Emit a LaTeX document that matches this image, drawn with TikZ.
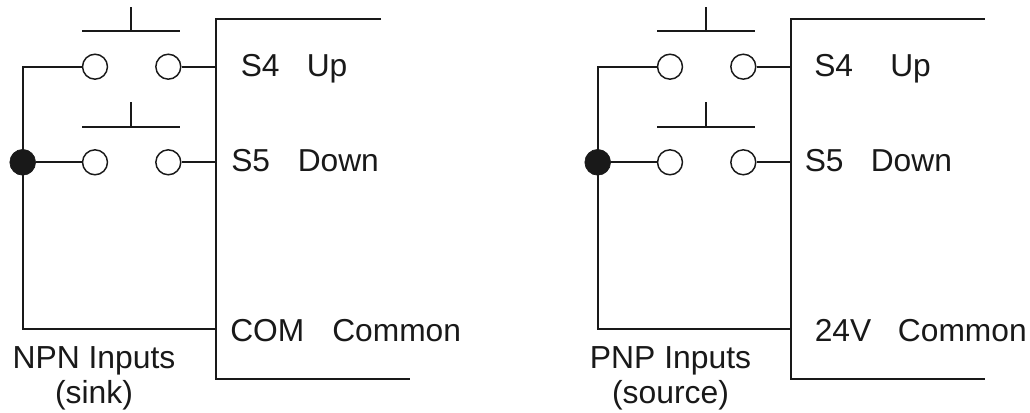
\documentclass[tikz,border=0pt]{standalone}
\usepackage{fontspec}
\setmainfont{Liberation Sans}
\tikzset{
  wire/.style={line width=1.5pt,black!90},
  contactnode/.style={circle,draw=black!90,line width=1.1pt,fill=white,minimum size=18.7pt,inner sep=0pt},
  junctionnode/.style={circle,fill=black!90,draw=black!90,line width=0.5pt,minimum size=19.3pt,inner sep=0pt},
  lab/.style={font=\fontsize{23.8pt}{28pt}\selectfont,inner sep=0pt,anchor=base west,text=black!90},
  caption/.style={font=\fontsize{23.9pt}{26.25pt}\selectfont,inner sep=0pt,align=center,anchor=base,text=black!90}
}
\newcommand{\panel}[9]{%
 \begin{scope}[xshift=#1]
  \coordinate (#2t) at (216,19); \coordinate (#2te) at (#9,19);
  \coordinate (#2b) at (216,379); \coordinate (#2be) at (409.5,379);
  \draw[wire,line cap=butt] (#2te) -- (#2t) -- (#2b) -- (#2be);
  \coordinate (#2u) at (22.7,66.7); \coordinate (#2d) at (22.7,329);
  \coordinate (#2cr) at (216,329);
  \coordinate (#2sr) at (216,66.7); \coordinate (#2dr) at (216,162.3);
  \node[contactnode] (#2a) at (95,66.7) {};
  \node[contactnode] (#2c) at (168.3,66.7) {};
  \node[contactnode] (#2e) at (95,162.3) {};
  \node[contactnode] (#2f) at (168.3,162.3) {};
  \draw[wire] (#2a) -- (#2u) -- (#2d) -- (#2cr);
  \node[junctionnode] (#2j) at (22.7,162.3) {};
  \draw[wire] (#2j) -- (#2e);
  \draw[wire] (#2c) -- (#2sr);
  \draw[wire] (#2f) -- (#2dr);
  \coordinate (#2pal) at (82,31.5); \coordinate (#2par) at (179.5,31.5);
  \coordinate (#2pam) at (130.7,31.5); \coordinate (#2pat) at (130.7,7);
  \coordinate (#2pbl) at (82,127); \coordinate (#2pbr) at (179.5,127);
  \coordinate (#2pbm) at (130.7,127); \coordinate (#2pbt) at (130.7,102);
  \draw[wire] (#2pal) -- (#2par); \draw[wire] (#2pam) -- (#2pat);
  \draw[wire] (#2pbl) -- (#2pbr); \draw[wire] (#2pbm) -- (#2pbt);
  \node[lab] (#2sf) at (\sfx,77) {S4};
  \node[lab] (#2up) at (#8,77) {Up};
  \node[lab] (#2sg) at (\sgx,172) {S5};
  \node[lab] (#2dn) at (\dnx,172) {Down};
  \node[lab] (#2com) at (#3,341) {#4};
  \node[lab] (#2cm) at (#5,341) {Common};
  \node[caption] (#2cap) at (#6,403) {#7};
 \end{scope}}
\begin{document}
\begin{tikzpicture}[x=0.75pt,y=-0.75pt]
\useasboundingbox (0,0) rectangle (1030,413);
\fill[white] (0,0) rectangle (1030,413);
\def\sfx{240.5}\def\sgx{231}\def\dnx{297.5}
\panel{0pt}{L}{230}{COM}{332}{94}{NPN Inputs\\(sink)}{306.5}{381}
\def\sfx{239}\def\sgx{229.5}\def\dnx{295.5}
\panel{431.25pt}{R}{239.5}{24V}{322.7}{95.5}{PNP Inputs\\(source)}{315}{409.5}
\end{tikzpicture}
\end{document}
